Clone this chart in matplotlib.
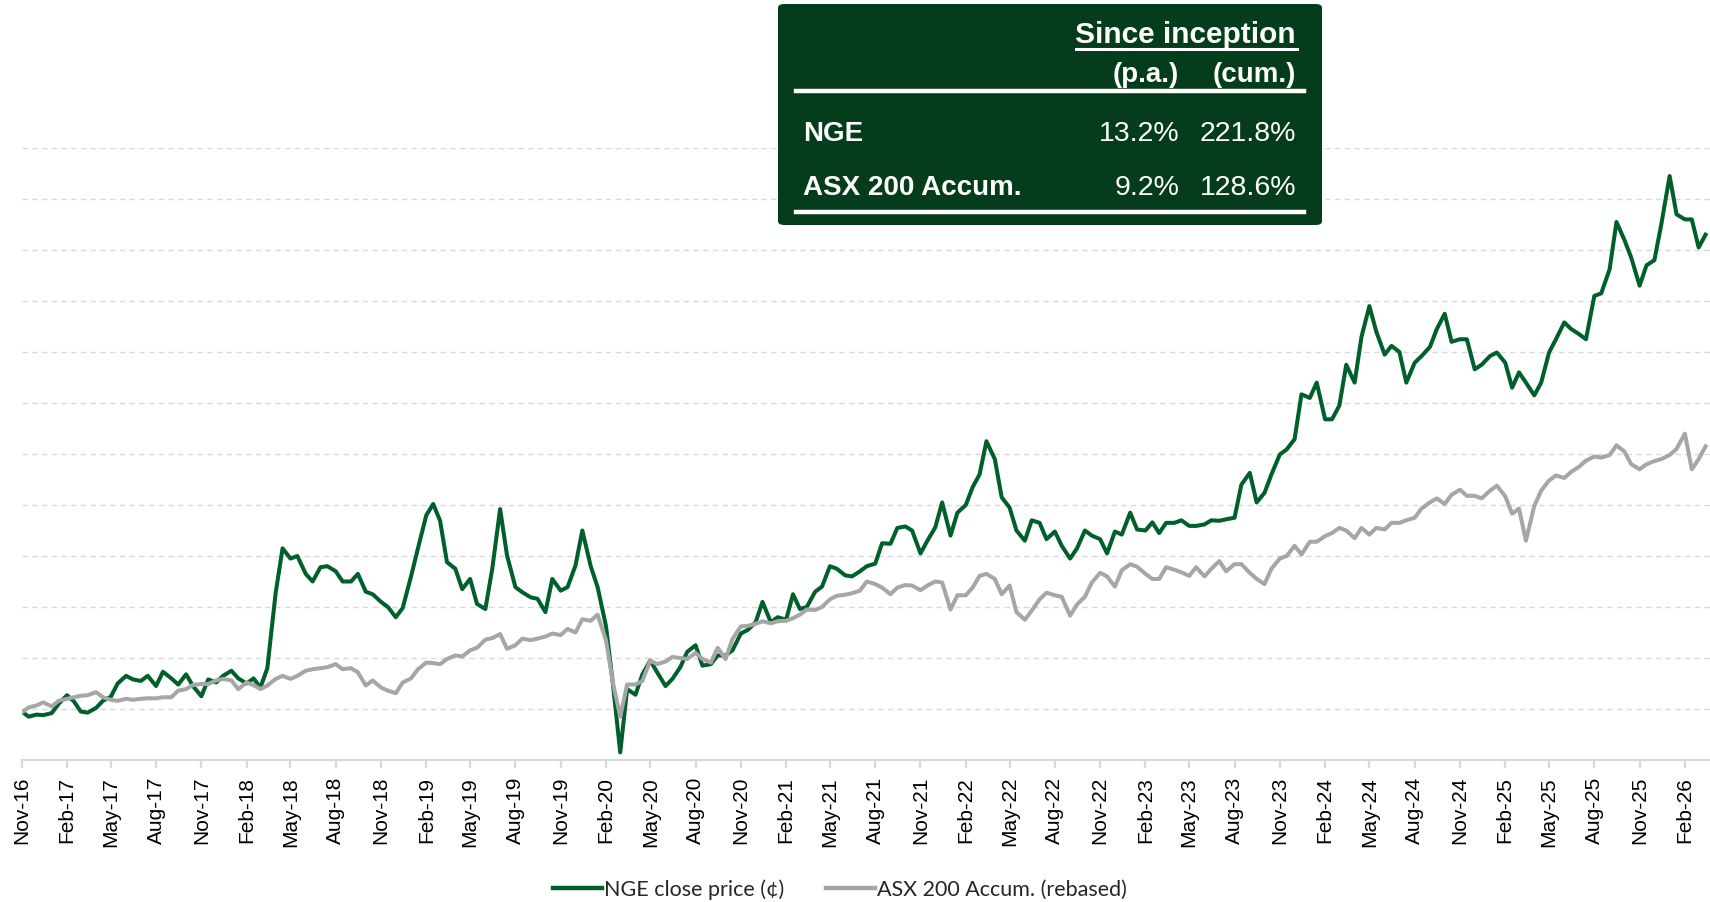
import matplotlib
matplotlib.use("Agg")
import matplotlib.pyplot as plt
import matplotlib.dates as mdates
from matplotlib.patches import FancyBboxPatch
import pandas as pd
import numpy as np

# ---- data (semi-monthly readings, 1st and 15th of each month) ----
start_date = "2016-11-01"

nge_price = [
    39.5, 38.5, 38.9, 38.8, 39.2, 41.0, 42.7, 41.5, 39.5, 39.3,
    40.2, 41.6, 42.4, 45.0, 46.5, 45.8, 45.5, 46.5, 44.5, 47.3,
    46.0, 44.8, 46.8, 44.5, 42.5, 45.8, 45.2, 46.5, 47.5, 46.0,
    45.0, 46.0, 44.2, 48.0, 62.8, 71.5, 69.5, 70.0, 66.5, 65.0,
    67.8, 68.0, 67.0, 65.0, 65.0, 66.5, 63.0, 62.5, 61.0, 60.0,
    58.0, 59.8, 66.0, 71.5, 78.0, 80.2, 76.9, 68.8, 67.5, 63.5,
    65.5, 60.6, 59.6, 67.5, 79.2, 70.1, 63.9, 62.9, 61.9, 61.6,
    59.0, 65.5, 63.2, 63.9, 68.1, 75.0, 68.0, 63.9, 56.3, 45.0,
    31.5, 43.9, 42.8, 46.8, 49.5, 47.2, 44.5, 45.9, 48.2, 51.2,
    52.5, 48.5, 48.8, 50.5, 50.5, 51.5, 54.8, 55.5, 57.0, 61.0,
    57.0, 58.0, 57.5, 62.5, 59.6, 60.0, 63.0, 64.0, 68.0, 67.5,
    66.2, 66.0, 67.0, 68.0, 68.5, 72.5, 72.4, 75.5, 75.8, 75.0,
    70.5, 73.0, 75.6, 80.5, 74.0, 78.5, 80.0, 83.5, 86.0, 92.5,
    89.0, 81.5, 79.5, 75.0, 73.0, 77.0, 76.5, 73.3, 74.8, 72.0,
    69.5, 71.5, 75.0, 74.0, 73.3, 70.5, 74.8, 74.2, 78.5, 75.2,
    75.0, 76.6, 74.5, 76.5, 76.5, 77.0, 75.9, 75.9, 76.2, 77.0,
    76.9, 77.2, 77.5, 84.0, 86.3, 80.5, 82.4, 86.0, 89.9, 90.9,
    92.9, 101.7, 101.0, 104.0, 96.8, 96.8, 99.5, 107.5, 104.0, 113.0,
    119.0, 114.0, 109.5, 111.2, 110.0, 104.0, 107.9, 109.2, 111.0, 114.5,
    117.5, 112.0, 112.5, 112.5, 106.6, 107.5, 109.2, 109.9, 107.9, 103.0,
    106.0, 104.0, 101.5, 104.0, 109.9, 112.5, 115.8, 114.5, 113.5, 112.5,
    121.0, 121.5, 126.2, 135.5, 132.0, 128.5, 123.0, 127.0, 128.0, 135.0,
    144.5, 137.0, 136.0, 136.0, 130.5, 133.0,
]

asx_rebased = [
    39.3, 40.3, 40.7, 41.3, 40.5, 41.6, 42.0, 42.3, 42.6, 42.7,
    43.3, 42.3, 41.8, 41.6, 42.0, 41.8, 42.0, 42.1, 42.1, 42.3,
    42.3, 43.6, 43.9, 44.7, 44.9, 44.9, 45.6, 45.9, 45.6, 43.9,
    45.2, 44.7, 43.9, 44.6, 45.9, 46.5, 45.9, 46.5, 47.5, 47.8,
    48.0, 48.2, 48.8, 47.8, 48.0, 47.2, 44.6, 45.6, 44.2, 43.6,
    43.1, 45.2, 46.0, 47.8, 49.1, 49.0, 48.8, 49.8, 50.5, 50.3,
    51.5, 52.0, 53.6, 53.9, 54.7, 51.8, 52.5, 53.8, 53.5, 53.8,
    54.2, 54.8, 54.5, 55.7, 55.0, 57.6, 57.3, 58.5, 53.5, 45.2,
    38.5, 44.8, 44.8, 45.5, 49.5, 48.8, 49.3, 50.2, 50.0, 49.8,
    51.0, 49.8, 49.1, 52.0, 49.8, 53.7, 56.2, 56.3, 56.7, 57.2,
    56.8, 57.2, 57.3, 57.8, 58.5, 59.5, 59.4, 60.0, 61.5, 62.2,
    62.4, 62.7, 63.2, 65.0, 64.5, 63.8, 62.5, 63.8, 64.3, 64.2,
    63.3, 64.2, 65.0, 64.8, 59.5, 62.3, 62.3, 63.8, 66.1, 66.5,
    65.5, 62.5, 64.2, 59.0, 57.5, 59.3, 61.5, 62.8, 62.3, 62.0,
    58.3, 60.5, 62.0, 64.8, 66.7, 66.0, 64.0, 67.2, 68.4, 67.9,
    66.5, 65.5, 65.5, 67.8, 67.3, 66.8, 66.1, 67.8, 66.0, 67.5,
    69.0, 67.0, 68.4, 68.4, 66.7, 65.5, 64.5, 67.5, 69.5, 70.0,
    72.0, 70.3, 72.8, 72.8, 73.9, 74.5, 75.5, 75.0, 73.5, 75.5,
    74.2, 75.5, 75.2, 76.5, 76.5, 77.0, 77.5, 79.3, 80.5, 81.3,
    80.2, 82.0, 83.0, 81.8, 81.8, 81.3, 82.8, 83.8, 81.7, 78.3,
    79.3, 73.0, 79.8, 82.8, 84.8, 85.8, 85.3, 86.5, 87.5, 88.7,
    89.5, 89.3, 89.8, 91.7, 90.5, 88.0, 87.0, 88.0, 88.6, 89.0,
    89.8, 91.0, 94.0, 87.0, 89.0, 91.5,
]

series_labels = ["NGE close price (\u00a2)", "ASX 200 Accum. (rebased)"]
table_header = "Since inception"
table_cols = ["(p.a.)", "(cum.)"]
table_rows = ["NGE", "ASX 200 Accum."]
table_pa = ["13.2%", "9.2%"]
table_cum = ["221.8%", "128.6%"]

dates = pd.date_range(start_date, periods=len(nge_price), freq="SMS")

# ---- styling ----
GREEN = "#005f2b"
GRAY = "#a6a6a6"
BOX = "#053d1c"
FONT = ["Liberation Sans", "DejaVu Sans"]
plt.rcParams["font.family"] = FONT

W, H = 1710, 903
fig = plt.figure(figsize=(W / 100, H / 100), dpi=100)

left_px, right_px, top_px, bottom_px = 21.7, 1710, 149, 761
ax = fig.add_axes([left_px / W, 1 - bottom_px / H,
                   (right_px - left_px) / W, (bottom_px - top_px) / H])

ax.plot(dates, nge_price, color=GREEN, lw=2.9, label=series_labels[0],
        solid_joinstyle="round", zorder=3)
ax.plot(dates, asx_rebased, color=GRAY, lw=2.9, label=series_labels[1],
        solid_joinstyle="round", zorder=4)

ax.set_xlim(pd.Timestamp("2016-11-01"), pd.Timestamp("2026-03-24"))
ax.set_ylim(30, 150)
ax.set_yticks(np.arange(40, 151, 10))
ax.yaxis.grid(True, color="#d9d9d9", linestyle=(0, (4, 3)), lw=1.0)
ax.tick_params(axis="y", left=False, labelleft=False)

for s in ["top", "right", "left"]:
    ax.spines[s].set_visible(False)
ax.spines["bottom"].set_color("#d9d9d9")
ax.spines["bottom"].set_linewidth(1.6)

ax.xaxis.set_major_locator(mdates.MonthLocator(bymonth=[2, 5, 8, 11], bymonthday=1))
ax.xaxis.set_major_formatter(mdates.DateFormatter("%b-%y"))
ax.tick_params(axis="x", direction="out", length=5.5, width=1.6, color="#d9d9d9",
               labelsize=15, labelrotation=90, pad=6, labelcolor="black")

# legend
leg = fig.legend(loc="center", bbox_to_anchor=(840 / W, 1 - 890 / H), ncol=2,
                 frameon=False, handlelength=2.3, handletextpad=0.1,
                 columnspacing=1.9, prop={"family": ["Lato", "DejaVu Sans"], "size": 15.5})
for t in leg.get_texts():
    t.set_color("#262626")
for h in leg.get_lines():
    h.set_linewidth(3.2)

# table box
bx0, by0, bx1, by1 = 778, 5, 1322, 226
box = FancyBboxPatch((bx0 / W, 1 - by1 / H), (bx1 - bx0) / W, (by1 - by0) / H,
                     boxstyle="round,pad=0,rounding_size=0.004", transform=fig.transFigure,
                     facecolor=BOX, edgecolor="none", zorder=10)
fig.patches.append(box)


def fx(px):
    return px / W


def fy(py):
    return 1 - py / H


tk = dict(transform=fig.transFigure, color="white", zorder=11, va="center")
t_head = fig.text(fx(1296), fy(35), table_header, ha="right", fontweight="bold",
                  fontsize=21.5, **tk)
fig.add_artist(plt.Line2D([fx(1076), fx(1297)], [fy(50), fy(50)], color="white",
                          lw=2.2, transform=fig.transFigure, zorder=11))
fig.text(fx(1179), fy(75), table_cols[0], ha="right", fontweight="bold", fontsize=20, **tk)
fig.text(fx(1296), fy(75), table_cols[1], ha="right", fontweight="bold", fontsize=20, **tk)
fig.add_artist(plt.Line2D([fx(796), fx(1304)], [fy(92), fy(92)], color="white",
                          lw=3.2, transform=fig.transFigure, zorder=11))
row_y = [134, 188]
for name, pa, cum, yy in zip(table_rows, table_pa, table_cum, row_y):
    fig.text(fx(803), fy(yy), name, ha="left", fontweight="bold", fontsize=20, **tk)
    fig.text(fx(1179), fy(yy), pa, ha="right", fontsize=20.5, **tk)
    fig.text(fx(1296), fy(yy), cum, ha="right", fontsize=20.5, **tk)
fig.add_artist(plt.Line2D([fx(796), fx(1304)], [fy(213), fy(213)], color="white",
                          lw=3.2, transform=fig.transFigure, zorder=11))

fig.savefig("out.png", dpi=100, facecolor="white")
